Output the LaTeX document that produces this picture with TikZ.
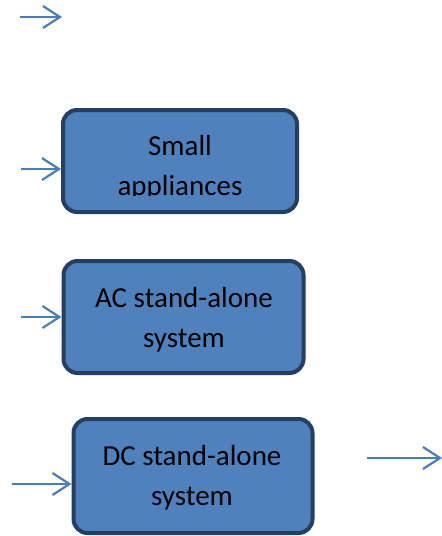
\documentclass[tikz,border=0pt]{standalone}
\usepackage{fontspec}
\setmainfont{Carlito}
\usetikzlibrary{arrows.meta}
\definecolor{boxfill}{HTML}{4F81BD}
\definecolor{boxline}{HTML}{243F60}
\definecolor{arrowblue}{HTML}{4A7EBB}
\tikzset{
  sysbox/.style={draw=boxline, line width=4pt, fill=boxfill, rounded corners=14pt, inner sep=0pt},
  boxtext/.style={align=center, font=\fontsize{29}{40}\selectfont, text=black, inner sep=0pt},
  feed/.style={draw=arrowblue, line width=2.2pt, -{Straight Barb[length=17pt,width=22pt,line width=2.2pt]}}
}
\begin{document}
\begin{tikzpicture}[x=1pt,y=-1pt]
  \useasboundingbox (0,0) rectangle (442,536);

  % boxes
  \node[sysbox, minimum width=234pt, minimum height=102pt] (small) at (180,161) {};
  \node[sysbox, minimum width=240pt, minimum height=112pt] (ac) at (183.5,317) {};
  \node[sysbox, minimum width=239pt, minimum height=114pt] (dc) at (193,476) {};

  % labels (the lower line of the first box is cut off at its text frame)
  \begin{scope}
    \clip (64,112) rectangle (297,195);
    \node[boxtext, anchor=base] (smalltxt) at (180,195) {Small\\appliances};
  \end{scope}
  \node[boxtext, anchor=base] (actxt) at (184,347) {AC stand-alone\\system};
  \node[boxtext, anchor=base] (dctxt) at (192,505) {DC stand-alone\\system};

  % connectors
  \coordinate (t0) at (20,17);
  \coordinate (t1) at (62,17);
  \draw[feed] (t0) -- (t1);

  \coordinate (s0) at (21,169);
  \draw[feed] (s0) -- (small.west |- s0);

  \coordinate (a0) at (21,317);
  \draw[feed] (a0) -- (ac.west |- a0);

  \coordinate (d0) at (12,484);
  \draw[feed] (d0) -- (dc.west |- d0);

  \coordinate (r0) at (367,458);
  \coordinate (r1) at (442,458);
  \draw[feed] (r0) -- (r1);
\end{tikzpicture}
\end{document}
